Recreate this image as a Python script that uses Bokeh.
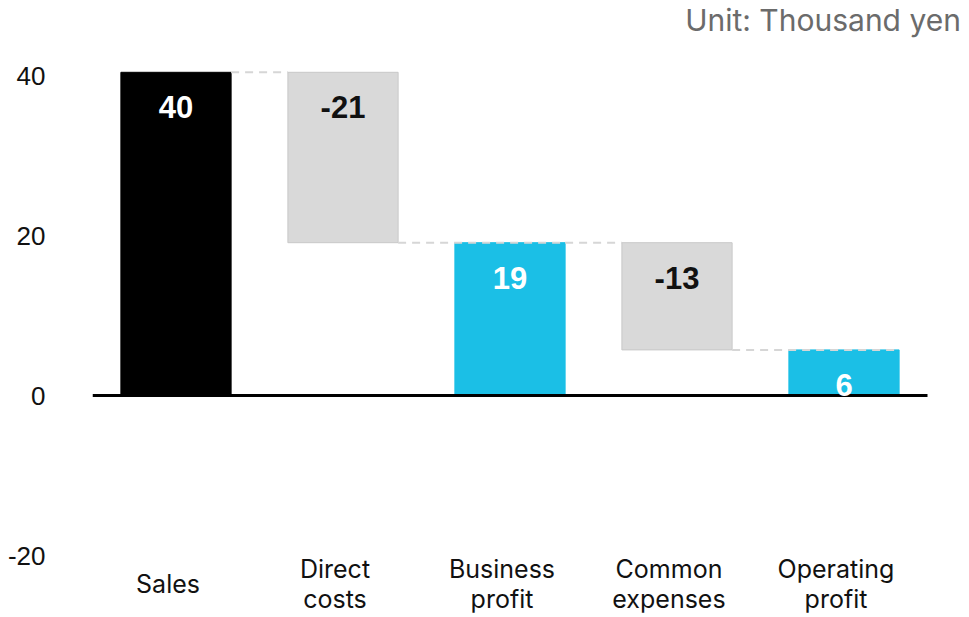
from bokeh.plotting import figure
from bokeh.models import Range1d, FixedTicker, ColumnDataSource
from bokeh.core.properties import value
from bokeh.embed import file_html
from bokeh.resources import INLINE

# ---- data ----
categories = ["Sales", "Direct\ncosts", "Business\nprofit", "Common\nexpenses", "Operating\nprofit"]
values = [40.4, -21.3, 19.1, -13.4, 5.7]
is_total = [True, False, True, False, True]
bar_labels = ["40", "-21", "19", "-13", "6"]
y_ticks = [-20, 0, 20, 40]
y_tick_labels = ["-20", "0", "20", "40"]
unit_text = "Unit: Thousand yen"

colors = {"start": "#000000", "total": "#1BBFE6", "delta": "#D9D9D9"}

# ---- waterfall geometry from values ----
xs = list(range(len(values)))
bottoms, tops, fills, lines, label_colors = [], [], [], [], []
running = 0.0
for i, (v, tot) in enumerate(zip(values, is_total)):
    if tot:
        b, t = 0.0, v
        running = v
        fill = colors["start"] if i == 0 else colors["total"]
        lc = fill
        tc = "white"
    else:
        b, t = running + v, running
        running = running + v
        fill = colors["delta"]
        lc = "#C8C8C8"
        tc = "#111111"
    bottoms.append(b)
    tops.append(t)
    fills.append(fill)
    lines.append(lc)
    label_colors.append(tc)

W = 0.66
src = ColumnDataSource(dict(x=xs, bottom=bottoms, top=tops, fill=fills, line=lines,
                            label=bar_labels, tc=label_colors))

p = figure(width=969, height=617, output_backend="svg", toolbar_location=None,
           x_range=Range1d(-0.5, 4.7515), y_range=Range1d(-27.75, 49.375),
           min_border_left=92, min_border_right=0, min_border_top=0, min_border_bottom=0)
p.outline_line_color = None
p.background_fill_color = "white"
p.xgrid.visible = False
p.ygrid.visible = False
p.xaxis.visible = False

ya = p.yaxis[0]
ya.ticker = FixedTicker(ticks=y_ticks)
ya.major_label_overrides = {t: s for t, s in zip(y_ticks, y_tick_labels)}
ya.axis_line_color = None
ya.major_tick_line_color = None
ya.minor_tick_line_color = None
ya.major_label_text_font = "Liberation Sans"
ya.major_label_text_font_size = "26px"
ya.major_label_text_color = "#111111"
ya.major_label_standoff = 41

p.vbar(x="x", width=W, bottom="bottom", top="top", fill_color="fill", line_color="line",
       line_width=1, source=src)

# connectors
levels = []
running = 0.0
for i, v in enumerate(values):
    running = v if is_total[i] else running + v
    levels.append(running)
cx0, cx1, cy = [], [], []
for i in range(len(values) - 1):
    cx0.append(xs[i] + W / 2)
    cx1.append(xs[i + 1] + (W / 2 if is_total[i + 1] else -W / 2))
    cy.append(levels[i])
p.segment(x0=cx0, y0=cy, x1=cx1, y1=cy, line_color="#D6D6D6", line_width=2, line_dash="8 6")

# zero line
p.segment(x0=[-0.5], y0=[0], x1=[4.5], y1=[0], line_color="black", line_width=3)

# bar labels
p.text(x="x", y="top", text="label", text_color="tc", source=src,
       text_font=value("Liberation Sans"), text_font_style="bold", text_font_size="31px",
       text_align="center", text_baseline="middle", y_offset=35)

# category labels
p.text(x=xs, y=[-23.6] * len(xs), text=categories, text_font=value("Inter"),
       text_font_size="25px", text_color="#111111", text_align="center",
       text_baseline="middle", x_offset=-8, text_line_height=1.0)

# unit note
p.text(x=[4.7], y=[46.9], text=[unit_text], text_font=value("Inter"),
       text_font_size="30px", text_color="#6b6b6b", text_align="right",
       text_baseline="middle")

open("out.html", "w").write(file_html(p, INLINE))
